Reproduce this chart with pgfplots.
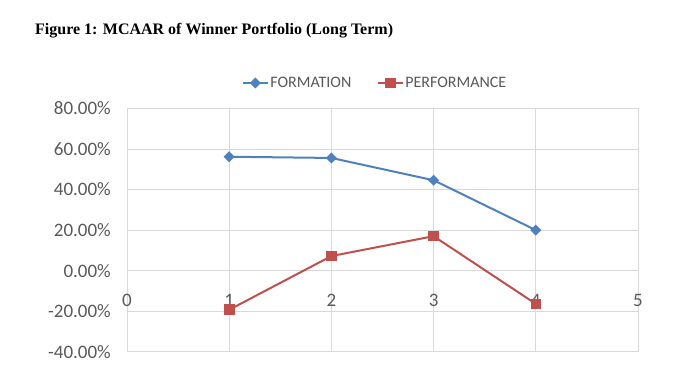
\documentclass[border=0pt]{standalone}
\usepackage{pgfplots}
\pgfplotsset{compat=1.18}
\usepackage{fontspec}
\setmainfont{Carlito}
\newfontfamily\titlefont{Liberation Serif}
\definecolor{fblue}{HTML}{4F81BD}
\definecolor{pred}{HTML}{C0504D}
\definecolor{gridc}{HTML}{D9D9D9}
\definecolor{tickc}{HTML}{595959}
\begin{document}
\begin{tikzpicture}
\useasboundingbox (0,0) rectangle (696pt,376pt);
\node[anchor=west, font=\titlefont\bfseries\fontsize{16}{18}\selectfont, inner sep=0pt] at (35pt,345pt) {Figure 1: MCAAR of Winner Portfolio (Long Term)};
\begin{axis}[
  at={(127pt,24.3pt)}, anchor=south west,
  scale only axis, width=511pt, height=243.2pt,
  xmin=0, xmax=5, ymin=-40, ymax=80,
  xtick={0,1,2,3,4,5}, ytick={-40,-20,0,20,40,60,80},
  grid=major, major grid style={gridc, line width=0.8pt},
  axis line style={gridc, line width=0.8pt},
  major tick length=0pt,
  /pgf/number format/assume math mode=true,
  tick label style={font=\fontsize{19}{20}\selectfont, text=tickc},
  yticklabel={\pgfmathprintnumber[fixed,fixed zerofill,precision=2]{\tick}\%},
  yticklabel style={anchor=east, inner sep=0pt, xshift=-16pt},
  xticklabel style={anchor=center, yshift=51.7pt},
  legend columns=2,
  legend style={draw=none, fill=none, at={(0.485,1.105)}, anchor=center,
    font=\fontsize{16}{18}\selectfont, text=tickc,
    nodes={inner sep=1.5pt},
    /tikz/every even column/.append style={column sep=24pt}},
  legend image code/.code={\draw[mark repeat=2,mark phase=2,#1] plot coordinates {(0pt,0pt) (12.5pt,0pt) (25pt,0pt)};},
]
\addplot[fblue, line width=2pt, mark=square*, mark size=2.9pt, mark options={rotate=45, solid, fill=fblue}]
  coordinates {(1,56.2) (2,55.6) (3,44.6) (4,20.0)};
\addlegendentry{FORMATION}
\addplot[pred, line width=2pt, mark=square*, mark size=4.3pt, mark options={solid, fill=pred}]
  coordinates {(1,-19.3) (2,7.2) (3,17.0) (4,-16.4)};
\addlegendentry{PERFORMANCE}
\end{axis}
\end{tikzpicture}
\end{document}
